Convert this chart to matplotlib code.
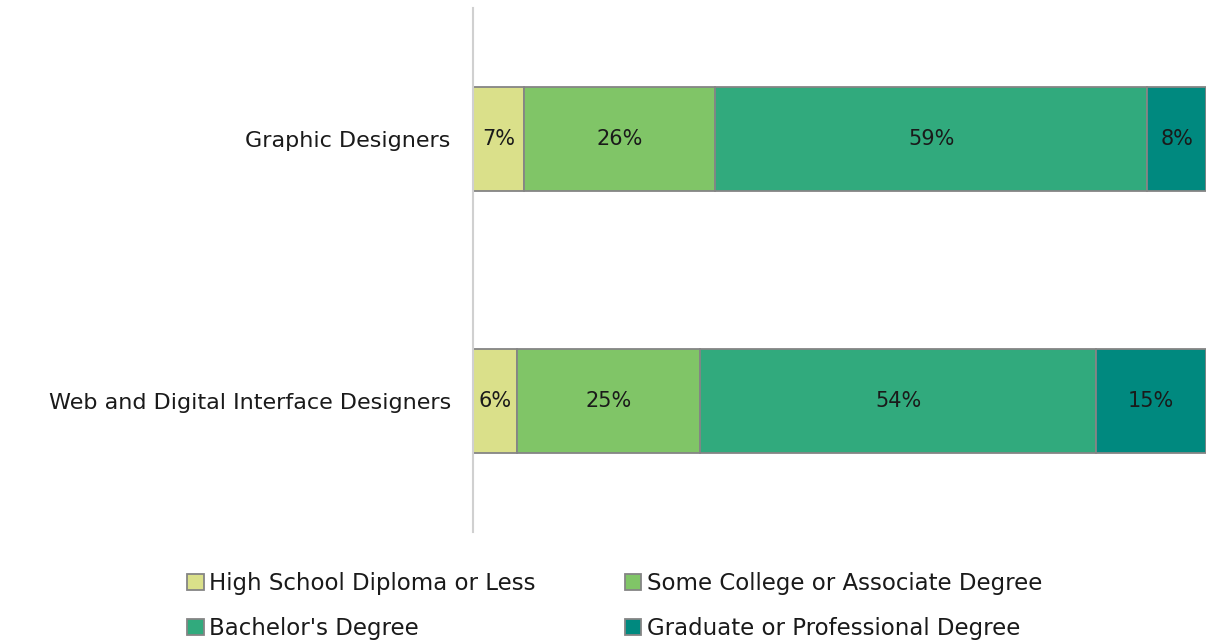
import matplotlib.pyplot as plt
import numpy as np

# occupations, top to bottom
occupations = ["Graphic Designers", "Web and Digital Interface Designers"]

# education shares (%)
high_school = [7, 6]
some_college = [26, 25]
bachelors = [59, 54]
graduate = [8, 15]

series_names = ["High School Diploma or Less", "Some College or Associate Degree",
                "Bachelor's Degree", "Graduate or Professional Degree"]
series_values = [high_school, some_college, bachelors, graduate]
colors = ["#dae08a", "#80c567", "#31aa7d", "#00897f"]

plt.rcParams['font.family'] = ['DejaVu Sans']

fig = plt.figure(figsize=(12.06, 6.42), dpi=100)
ax = fig.add_axes([473 / 1206, 1 - 532 / 642, 1 - 473 / 1206, 524 / 642])

y = np.arange(len(occupations))
left = np.zeros(len(occupations))
handles = []
for name, vals, col in zip(series_names, series_values, colors):
    bars = ax.barh(y, vals, left=left, height=0.4, color=col,
                   edgecolor="#858585", linewidth=1.3, label=name)
    ax.bar_label(bars, labels=[f"{v}%" for v in vals], label_type="center",
                 fontsize=15, color="#1a1a1a")
    left += np.array(vals)
    handles.append(bars)

ax.set_xlim(0, 100)
ax.set_ylim(1.5, -0.5)
ax.set_yticks(y)
ax.set_yticklabels(occupations, fontsize=16, color="#1a1a1a")
ax.tick_params(axis="y", length=0, pad=16)
ax.set_xticks([])
for s in ["top", "right", "bottom"]:
    ax.spines[s].set_visible(False)
ax.spines["left"].set_color("#d0d0d0")
ax.spines["left"].set_linewidth(1.5)

# legend fills by column, so reorder to read row by row
order = [0, 2, 1, 3]
fig.legend([handles[i] for i in order], [series_names[i] for i in order],
           loc="upper left", bbox_to_anchor=(176 / 1206, 1 - 561 / 642),
           ncol=2, frameon=False, fontsize=16.5, handlelength=0.7, handleheight=0.7,
           handletextpad=0.25, columnspacing=3.9, labelspacing=0.95, borderpad=0,
           labelcolor="#1a1a1a")

fig.savefig("out.png", dpi=100)
